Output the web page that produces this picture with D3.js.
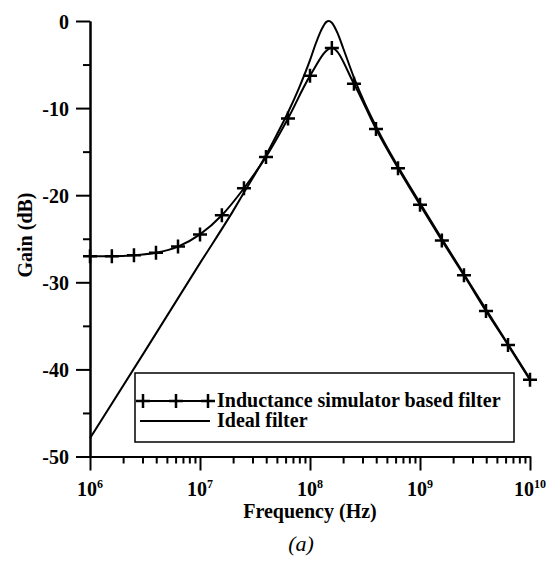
<!DOCTYPE html>
<html>
<head>
<meta charset="utf-8">
<script src="https://cdn.jsdelivr.net/npm/d3@7"></script>
<style>
  body { margin: 0; background: #fff; }
  svg text { font-family: "Liberation Serif", "Times New Roman", serif; fill: #000; }
</style>
</head>
<body>
<div id="chart"></div>
<script>
/* Band-pass filter response: inductance simulator vs ideal filter */

// simulated filter (marker points)
const simFreq = [1e6, 1.58e6, 2.51e6, 3.98e6, 6.31e6, 1e7, 1.58e7, 2.51e7, 3.98e7, 6.31e7,
  1e8, 1.58e8, 2.51e8, 3.98e8, 6.31e8, 1e9, 1.58e9, 2.51e9, 3.98e9, 6.31e9, 1e10];
const simGain = [-27.0, -27.0, -26.9, -26.6, -25.9, -24.5, -22.3, -19.2, -15.6, -11.2,
  -6.3, -3.1, -7.2, -12.4, -16.9, -21.1, -25.2, -29.2, -33.3, -37.2, -41.2];

// ideal filter
const idealFreq = [1e6, 3.16e6, 1e7, 2.0e7, 2.51e7, 3.16e7, 3.98e7, 5.01e7, 6.31e7, 7.94e7,
  1e8, 1.12e8, 1.26e8, 1.41e8, 1.48e8, 1.58e8, 1.78e8, 2.0e8, 2.51e8, 3.16e8, 3.98e8,
  5.01e8, 6.31e8, 1e9, 1.58e9, 3.16e9, 1e10];
const idealGain = [-47.9, -37.9, -27.8, -21.8, -19.7, -17.6, -15.4, -13.0, -10.5, -7.7,
  -4.5, -2.7, -1.1, -0.1, 0, -0.2, -1.4, -3.1, -6.5, -9.5, -12.1,
  -14.5, -16.7, -20.9, -25.0, -31.1, -41.1];

const yTicks = [0, -10, -20, -30, -40, -50];
const yMinorTicks = [-5, -15, -25, -35, -45];
const xTicks = [1e6, 1e7, 1e8, 1e9, 1e10];

const legendLabels = ["Inductance simulator based filter", "Ideal filter"];

const width = 555, height = 562;

const svg = d3.select("#chart")
  .append("svg")
  .attr("width", width)
  .attr("height", height);

const x = d3.scaleLog().domain([1e6, 1e10]).range([90, 530]);
const y = d3.scaleLinear().domain([-50, 0]).range([456.5, 21]);

// minor x ticks: 2..9 of each decade
var xMinor = [];
[1e6, 1e7, 1e8, 1e9].forEach(function (d) {
  for (var k = 2; k <= 9; k++) xMinor.push(d * k);
});

/* axes */
const yAxis = svg.append("g")
  .attr("transform", "translate(" + x.range()[0] + ",0)")
  .call(d3.axisLeft(y).tickValues(yTicks).tickSize(14).tickSizeOuter(0).tickPadding(7)
    .tickFormat(function (d) { return String(d); }));
svg.append("g")
  .attr("transform", "translate(" + x.range()[0] + ",0)")
  .call(d3.axisLeft(y).tickValues(yMinorTicks).tickSize(7).tickSizeOuter(0).tickFormat(""));

svg.append("g")
  .attr("transform", "translate(0," + y.range()[0] + ")")
  .call(d3.axisBottom(x).tickValues(xTicks).tickSize(14).tickSizeOuter(0).tickFormat(""));
svg.append("g")
  .attr("transform", "translate(0," + y.range()[0] + ")")
  .call(d3.axisBottom(x).tickValues(xMinor).tickSize(7).tickSizeOuter(0).tickFormat(""));

svg.selectAll(".domain, .tick line")
  .attr("stroke", "#000")
  .attr("stroke-width", 2);

yAxis.selectAll("text")
  .style("font-size", "20px")
  .style("font-weight", "bold")
  .attr("dy", "0.36em");

// x tick labels as 10 with a superscript exponent
svg.append("g")
  .selectAll("text")
  .data(xTicks)
  .enter()
  .append("text")
  .attr("x", function (d) { return x(d); })
  .attr("y", 496)
  .attr("text-anchor", "middle")
  .style("font-size", "20px")
  .style("font-weight", "bold")
  .each(function (d) {
    var t = d3.select(this);
    t.append("tspan").text("10");
    t.append("tspan")
      .attr("dy", -8)
      .style("font-size", "12px")
      .text(Math.round(Math.log10(d)));
  });

/* axis titles */
svg.append("text")
  .attr("text-anchor", "middle")
  .attr("transform", "translate(32,235)rotate(-90)")
  .style("font-size", "20px")
  .style("font-weight", "bold")
  .text("Gain (dB)");

svg.append("text")
  .attr("text-anchor", "middle")
  .attr("x", 310)
  .attr("y", 518)
  .style("font-size", "20px")
  .style("font-weight", "bold")
  .text("Frequency (Hz)");

svg.append("text")
  .attr("text-anchor", "middle")
  .attr("x", 301)
  .attr("y", 551)
  .style("font-size", "22px")
  .style("font-style", "italic")
  .text("(a)");

/* curves */
const ideal = idealFreq.map(function (f, i) { return [f, idealGain[i]]; });
const sim = simFreq.map(function (f, i) { return [f, simGain[i]]; });

const line = d3.line()
  .x(function (d) { return x(d[0]); })
  .y(function (d) { return y(d[1]); })
  .curve(d3.curveMonotoneX);

svg.append("path")
  .datum(ideal)
  .attr("fill", "none")
  .attr("stroke", "#000")
  .attr("stroke-width", 2)
  .attr("d", line);

svg.append("path")
  .datum(sim)
  .attr("fill", "none")
  .attr("stroke", "#000")
  .attr("stroke-width", 2)
  .attr("d", line);

const plus = "M-7,0H7M0,-7V7";

svg.selectAll(".sim-marker")
  .data(sim)
  .enter()
  .append("path")
  .attr("class", "sim-marker")
  .attr("transform", function (d) { return "translate(" + x(d[0]) + "," + y(d[1]) + ")"; })
  .attr("d", plus)
  .attr("stroke", "#000")
  .attr("stroke-width", 2.5)
  .attr("fill", "none");

/* legend */
const legend = svg.append("g").attr("transform", "translate(135,373)");

legend.append("rect")
  .attr("width", 379)
  .attr("height", 69)
  .attr("fill", "#fff")
  .attr("stroke", "#000")
  .attr("stroke-width", 1.5);

legendLabels.forEach(function (label, i) {
  var ly = 28 + i * 20;
  legend.append("line")
    .attr("x1", 5).attr("x2", 75)
    .attr("y1", ly).attr("y2", ly)
    .attr("stroke", "#000")
    .attr("stroke-width", 2);
  if (i === 0) {
    [8, 41, 73].forEach(function (mx) {
      legend.append("path")
        .attr("transform", "translate(" + mx + "," + ly + ")")
        .attr("d", plus)
        .attr("stroke", "#000")
        .attr("stroke-width", 2.5);
    });
  }
  legend.append("text")
    .attr("x", 82)
    .attr("y", ly + 6)
    .style("font-size", "20px")
    .style("font-weight", "bold")
    .text(label);
});
</script>
</body>
</html>
